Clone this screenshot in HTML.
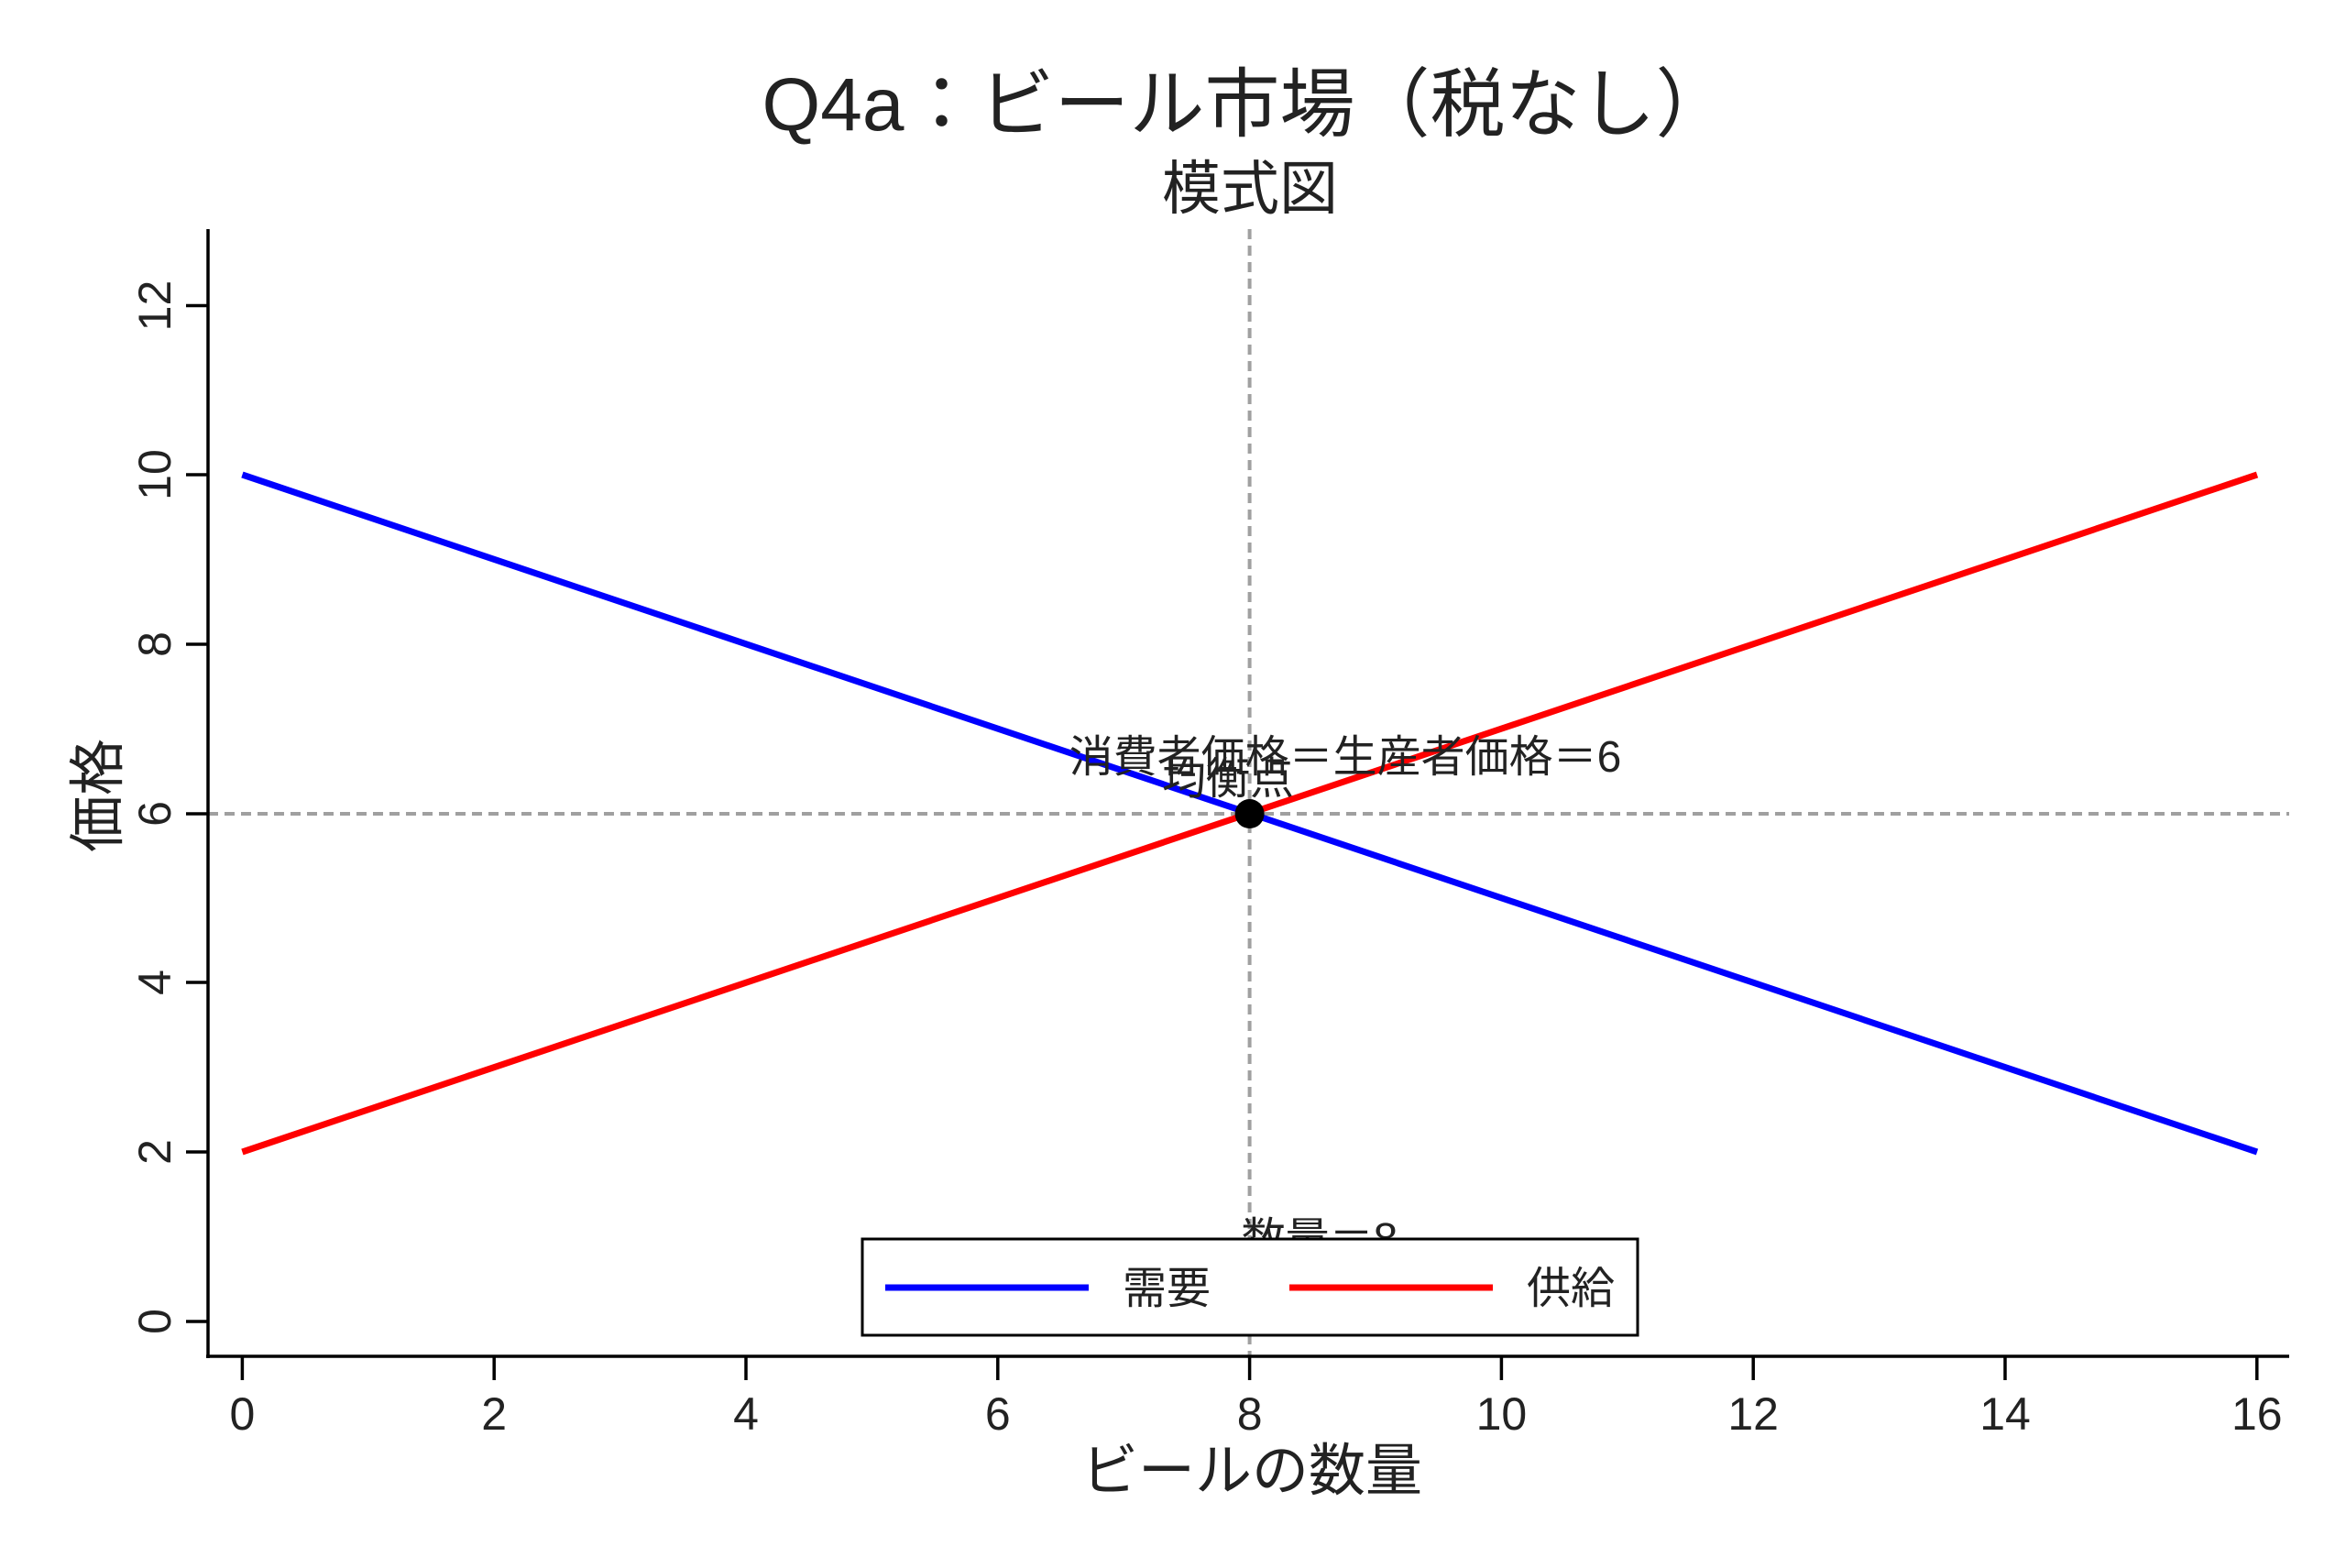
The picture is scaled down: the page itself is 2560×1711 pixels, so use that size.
<!DOCTYPE html>
<html><head><meta charset="utf-8"><style>body{margin:0;background:#fff}</style></head><body>
<svg width="2560" height="1706" xmlns="http://www.w3.org/2000/svg" font-family="'Liberation Sans','Noto Sans CJK JP',sans-serif">
<rect width="2560" height="1706" fill="#fff"/>
<text x="1360" y="142" font-size="82" text-anchor="middle" fill="#222">Q4a：ビール市場（税なし）</text>
<text x="1364" y="228" font-size="64" text-anchor="middle" fill="#222">模式図</text>
<line x1="1363.6" y1="250" x2="1363.6" y2="1480" stroke="#a0a0a0" stroke-width="4" stroke-dasharray="11,7"/>
<line x1="227" y1="888" x2="2498" y2="888" stroke="#a0a0a0" stroke-width="4" stroke-dasharray="11,7"/>
<line x1="264.4" y1="518" x2="2463" y2="1257" stroke="#0000ff" stroke-width="7"/>
<line x1="264.4" y1="1257" x2="2463" y2="518" stroke="#ff0000" stroke-width="7"/>
<circle cx="1363.6" cy="888" r="16" fill="#000"/>
<text x="1468" y="842" font-size="48" text-anchor="middle" fill="#222">消費者価格＝生産者価格＝6</text>
<text x="1340" y="866" font-size="48" text-anchor="middle" fill="#222">均衡点</text>
<text x="1440" y="1368" font-size="48" text-anchor="middle" fill="#222">数量＝8</text>
<line x1="227" y1="250" x2="227" y2="1482" stroke="#000" stroke-width="3.5"/>
<line x1="225" y1="1480" x2="2498" y2="1480" stroke="#000" stroke-width="3.5"/>
<g stroke="#000" stroke-width="3.5">
<line x1="264.4" y1="1480" x2="264.4" y2="1506"/><line x1="539.2" y1="1480" x2="539.2" y2="1506"/><line x1="814" y1="1480" x2="814" y2="1506"/><line x1="1088.8" y1="1480" x2="1088.8" y2="1506"/><line x1="1363.6" y1="1480" x2="1363.6" y2="1506"/><line x1="1638.4" y1="1480" x2="1638.4" y2="1506"/><line x1="1913.2" y1="1480" x2="1913.2" y2="1506"/><line x1="2188" y1="1480" x2="2188" y2="1506"/><line x1="2462.8" y1="1480" x2="2462.8" y2="1506"/>
<line x1="203" y1="1442" x2="227" y2="1442"/><line x1="203" y1="1257" x2="227" y2="1257"/><line x1="203" y1="1072" x2="227" y2="1072"/><line x1="203" y1="888" x2="227" y2="888"/><line x1="203" y1="703" x2="227" y2="703"/><line x1="203" y1="518" x2="227" y2="518"/><line x1="203" y1="333.5" x2="227" y2="333.5"/>
</g>
<g font-size="50" text-anchor="middle" fill="#222">
<text x="264.4" y="1560">0</text><text x="539.2" y="1560">2</text><text x="814" y="1560">4</text><text x="1088.8" y="1560">6</text><text x="1363.6" y="1560">8</text><text x="1638.4" y="1560">10</text><text x="1913.2" y="1560">12</text><text x="2188" y="1560">14</text><text x="2462.8" y="1560">16</text>
<text transform="translate(186,1442) rotate(-90)">0</text><text transform="translate(186,1257) rotate(-90)">2</text><text transform="translate(186,1072) rotate(-90)">4</text><text transform="translate(186,888) rotate(-90)">6</text><text transform="translate(186,703) rotate(-90)">8</text><text transform="translate(186,518) rotate(-90)">10</text><text transform="translate(186,333.5) rotate(-90)">12</text>
</g>
<text x="1366" y="1626" font-size="62" text-anchor="middle" fill="#222">ビールの数量</text>
<text transform="translate(128,868) rotate(-90)" font-size="62" text-anchor="middle" fill="#222">価格</text>
<rect x="941" y="1352" width="846" height="105" fill="#fff" stroke="#000" stroke-width="3"/>
<line x1="966" y1="1405" x2="1188" y2="1405" stroke="#0000ff" stroke-width="7"/>
<line x1="1407" y1="1405" x2="1629" y2="1405" stroke="#ff0000" stroke-width="7"/>
<text x="1225" y="1422" font-size="48" fill="#222">需要</text>
<text x="1666" y="1422" font-size="48" fill="#222">供給</text>
</svg>
</body></html>
